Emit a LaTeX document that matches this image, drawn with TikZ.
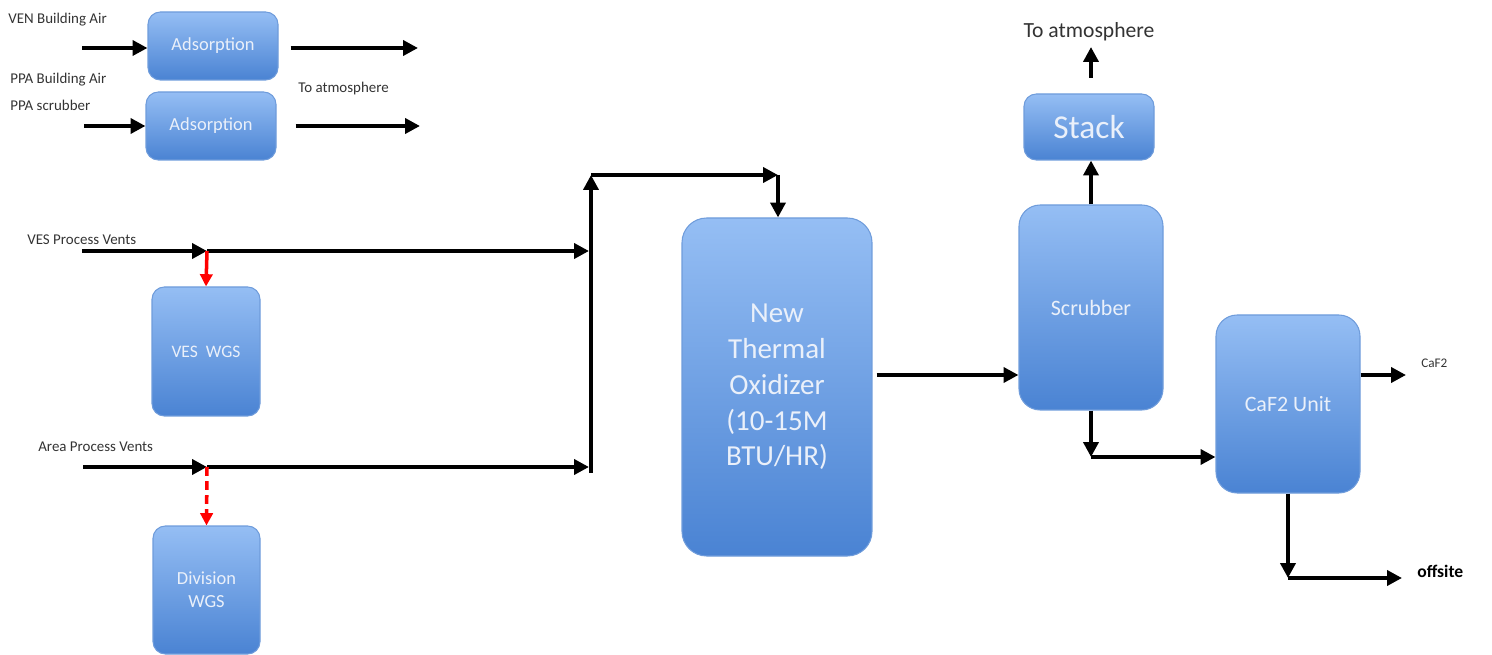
\documentclass[tikz,border=0pt]{standalone}
\usepackage{fontspec}
\setmainfont{Carlito}
\usetikzlibrary{arrows.meta}
\definecolor{boxtop}{HTML}{95BEF4}
\definecolor{boxbot}{HTML}{4A83D3}
\definecolor{boxline}{HTML}{6F9CDB}
\definecolor{boxtext}{HTML}{EAF0FA}
\definecolor{lbl}{HTML}{333333}
\begin{document}
\begin{tikzpicture}[x=0.02cm,y=-0.02cm,
  unit/.style={draw=boxline, line width=0.6pt, rounded corners=7pt, top color=boxtop, bottom color=boxbot, text=boxtext, align=center, inner sep=0pt},
  flow/.style={line width=2.2pt, -{Triangle[length=8.5pt,width=8.5pt]}},
  redflow/.style={line width=2pt, red, -{Triangle[length=7pt,width=7pt]}},
  redflowdash/.style={line width=2pt, red, dash pattern=on 5pt off 3pt, -{Triangle[length=7pt,width=7pt]}},
  smalllbl/.style={anchor=west, inner sep=0pt, text=lbl, font=\fontsize{8.5}{10}\selectfont}
]
\useasboundingbox (0,0) rectangle (1492,655);

% units
\node[unit, minimum width=130*0.02cm, minimum height=68*0.02cm, font=\fontsize{10.5}{12}\selectfont] (ads1) at (213,46) {Adsorption};
\node[unit, minimum width=130*0.02cm, minimum height=68*0.02cm, font=\fontsize{10.5}{12}\selectfont] (ads2) at (211,126) {Adsorption};
\node[unit, minimum width=108*0.02cm, minimum height=129*0.02cm, font=\fontsize{10}{12}\selectfont] (vwgs) at (206,351.5) {VES\ \ WGS};
\node[unit, minimum width=107*0.02cm, minimum height=128*0.02cm, font=\fontsize{10.5}{13}\selectfont] (dwgs) at (206.5,590) {Division\\WGS};
\node[unit, minimum width=190*0.02cm, minimum height=338*0.02cm, rounded corners=14pt, font=\fontsize{16.5}{20.4}\selectfont] (tox) at (777,387) {New\\Thermal\\Oxidizer\\(10-15M\\BTU/HR)};
\node[unit, minimum width=130*0.02cm, minimum height=66*0.02cm, font=\fontsize{19}{22}\selectfont] (stack) at (1089,127) {Stack};
\node[unit, minimum width=144*0.02cm, minimum height=205*0.02cm, rounded corners=12pt, font=\fontsize{12.5}{14}\selectfont] (scrub) at (1091,307.5) {Scrubber};
\node[unit, minimum width=144*0.02cm, minimum height=178*0.02cm, rounded corners=12pt, font=\fontsize{12.5}{14}\selectfont] (caf) at (1288,404) {CaF2 Unit};

% labels
\node[smalllbl] (lven) at (8,20) {VEN Building Air};
\node[smalllbl] (lppa1) at (10,80) {PPA Building Air};
\node[smalllbl] (lppa2) at (10,105) {PPA scrubber};
\node[smalllbl] (latm1) at (298,89) {To atmosphere};
\node[smalllbl] (lves) at (27,240) {VES Process Vents};
\node[smalllbl] (larea) at (38,447) {Area Process Vents};
\node[inner sep=0pt, text=lbl, font=\fontsize{12.3}{14}\selectfont] (latm2) at (1089,32) {To atmosphere};
\node[smalllbl, font=\fontsize{7.5}{9}\selectfont] (lcaf) at (1421,363) {CaF2};
\node[smalllbl, text=black, font=\bfseries\fontsize{10}{12}\selectfont] (loff) at (1417,571) {offsite};

% coordinates
\coordinate (venin) at (82,48);
\coordinate (venout) at (418,48);
\coordinate (ppain) at (84,126);
\coordinate (ppaout) at (420,126);
\coordinate (vesin) at (82,251);
\coordinate (vesj) at (207,251);
\coordinate (areain) at (83,467);
\coordinate (areaj) at (207,467);
\coordinate (vb) at (591,473);
\coordinate (vt) at (591,175);
\coordinate (vtr) at (778,175);
\coordinate (vesm) at (589,251);
\coordinate (aream) at (589,467);
\coordinate (stacktop) at (1091,78);
\coordinate (atmtip) at (1091,47);
\coordinate (scrb) at (1091,457);
\coordinate (cafb) at (1288,578);
\coordinate (cafr) at (1406,375);
\coordinate (offr) at (1402,578);

% flows
\draw[flow] (venin) -- (ads1.west |- venin);
\draw[flow] (ads1.east |- venin) ++(12,0) -- (venout);
\draw[flow] (ppain) -- (ads2.west |- ppain);
\draw[flow] (ads2.east |- ppain) ++(19,0) -- (ppaout);

\draw[flow] (vesin) -- (vesj);
\draw[flow] (vesj) -- (vesm);
\draw[redflow] (vesj) -- (vwgs.north);
\draw[flow] (areain) -- (areaj);
\draw[flow] (areaj) -- (aream);
\draw[redflowdash] (areaj) -- (dwgs.north);

\draw[flow] (vb) -- (vt);
\draw[flow] (vt) -- (vtr);
\draw[flow] (vtr) -- (tox.north -| vtr);

\draw[flow] (tox.east |- 0,375) ++(4,0) -- (scrub.west |- 0,375);
\draw[flow] (scrub.north) -- (stack.south -| scrub.north);
\draw[flow] (stacktop) -- (atmtip);
\draw[flow] (scrub.south) -- (scrb);
\draw[flow] (scrb) -- (caf.west |- scrb);
\draw[flow] (caf.east |- cafr) -- (cafr);
\draw[flow] (caf.south) -- (cafb);
\draw[flow] (cafb) -- (offr);
\end{tikzpicture}
\end{document}
